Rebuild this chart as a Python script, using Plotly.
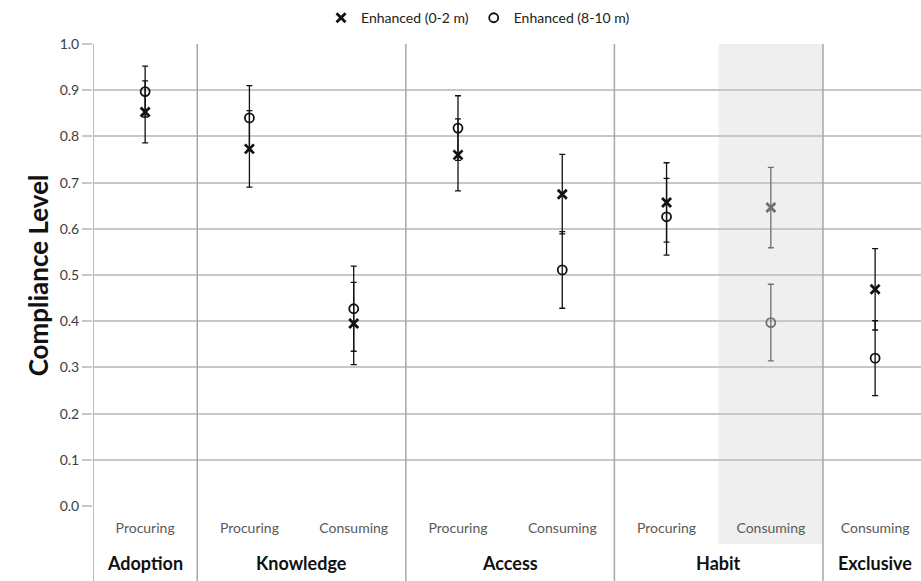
import plotly.graph_objects as go

# ---- data ----
subcats = ["Procuring", "Procuring", "Consuming", "Procuring", "Consuming",
           "Procuring", "Consuming", "Consuming"]
groups = ["Adoption", "Knowledge", "Access", "Habit", "Exclusive"]
group_centers = [0, 1.5, 3.5, 5.5, 7]
near_vals = [0.853, 0.773, 0.395, 0.760, 0.675, 0.657, 0.646, 0.469]   # Enhanced (0-2 m)
near_err = [0.067, 0.083, 0.089, 0.078, 0.086, 0.086, 0.087, 0.088]
far_vals = [0.897, 0.840, 0.427, 0.818, 0.511, 0.626, 0.397, 0.320]    # Enhanced (8-10 m)
far_err = [0.055, 0.070, 0.092, 0.070, 0.083, 0.083, 0.083, 0.081]
highlight = 6  # Habit / Consuming shown in grey
y_ticks = [0.0, 0.1, 0.2, 0.3, 0.4, 0.5, 0.6, 0.7, 0.8, 0.9, 1.0]

FONT = "Lato"
idx_main = [i for i in range(len(subcats)) if i != highlight]
idx_hl = [highlight]

fig = go.Figure()


def add_series(idx, vals, errs, symbol, size, lw, color, name, show):
    fig.add_trace(go.Scatter(
        x=idx, y=[vals[i] for i in idx], mode="markers", name=name,
        showlegend=show, legendgroup=name,
        marker=dict(symbol=symbol, size=size, color=color,
                    line=dict(color=color, width=lw)),
        error_y=dict(type="data", array=[errs[i] for i in idx], visible=True,
                     color=color, thickness=1.3, width=3),
    ))


add_series(idx_main, near_vals, near_err, "x-thin", 9, 2.8, "#111111", "Enhanced (0-2 m)", True)
add_series(idx_main, far_vals, far_err, "circle-open", 9, 1.8, "#111111", "Enhanced (8-10 m)", True)
add_series(idx_hl, near_vals, near_err, "x-thin", 9, 2.8, "#707070", "Enhanced (0-2 m)", False)
add_series(idx_hl, far_vals, far_err, "circle-open", 9, 1.8, "#707070", "Enhanced (8-10 m)", False)

shapes = [dict(type="rect", xref="x", yref="paper", x0=highlight - 0.5, x1=highlight + 0.5,
               y0=-0.082, y1=1, fillcolor="#efefef", line=dict(width=0), layer="below")]
for xb in [-0.5, 0.5, 2.5, 4.5, 6.5]:
    shapes.append(dict(type="line", xref="x", yref="paper", x0=xb, x1=xb, y0=-0.2, y1=1,
                       line=dict(color="#a6a6a6", width=1.5), layer="above"))

annotations = [dict(text="<b>%s</b>" % g, x=c, xref="x", y=-0.123, yref="paper",
                    showarrow=False, yanchor="middle", xanchor="center",
                    font=dict(family=FONT, size=18, color="#111111"))
               for g, c in zip(groups, group_centers)]
annotations.append(dict(text="<b>Compliance Level</b>", x=-0.066, xref="paper", y=0.5,
                        yref="paper", textangle=-90, showarrow=False,
                        xanchor="center", yanchor="middle",
                        font=dict(family=FONT, size=26, color="#111111")))

fig.update_layout(
    width=921, height=581,
    margin=dict(l=93, r=0, t=44, b=75),
    paper_bgcolor="white", plot_bgcolor="white",
    font=dict(family=FONT, size=13, color="#404040"),
    showlegend=True,
    legend=dict(orientation="h", x=0.465, xanchor="center", y=1.056, yanchor="middle",
                font=dict(family=FONT, size=14, color="#222222"),
                itemwidth=30, tracegroupgap=0, bgcolor="rgba(0,0,0,0)"),
    shapes=shapes, annotations=annotations,
    xaxis=dict(range=[-0.5, 7.44], tickmode="array", tickvals=list(range(len(subcats))),
               ticktext=subcats, showgrid=False, zeroline=False, showline=False,
               ticks="", ticklabelstandoff=12,
               tickfont=dict(family=FONT, size=14, color="#595959")),
    yaxis=dict(range=[0, 1.0], tickmode="array", tickvals=y_ticks,
               ticktext=["%.1f" % v for v in y_ticks],
               showgrid=True, gridcolor="#c8c8c8", gridwidth=1.5, zeroline=False,
               showline=False, ticks="outside", ticklen=10, tickcolor="#c8c8c8",
               tickwidth=1.5, tickfont=dict(family=FONT, size=14, color="#404040")),
)

fig.write_html("out.html", config={"displayModeBar": False},
               post_script="document.body.style.margin='0';")
